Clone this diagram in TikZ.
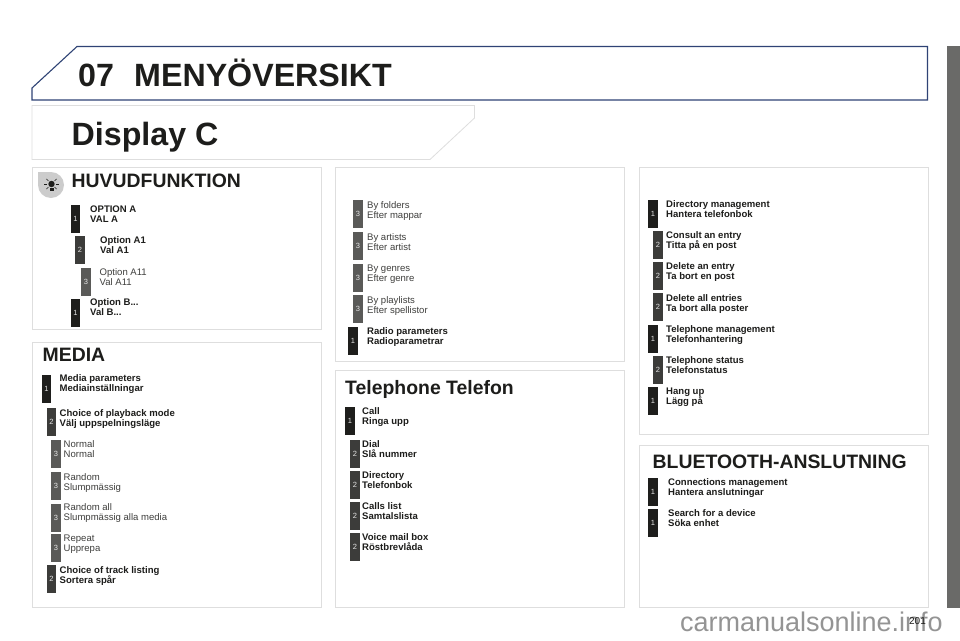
\documentclass[tikz,border=0pt]{standalone}
\usepackage{fontspec}
\setmainfont{Liberation Sans}
\definecolor{navy}{HTML}{2F4375}
\definecolor{panelline}{HTML}{DEDEDE}
\definecolor{lvlone}{HTML}{1E1E1C}
\definecolor{lvltwo}{HTML}{3C3C3A}
\definecolor{lvlthree}{HTML}{5A5A58}
\definecolor{inktext}{HTML}{1D1D1B}
\definecolor{tabgrey}{HTML}{6A6A68}
\tikzset{
  x=1pt,y=-1pt,
  panel/.style={draw=panelline,line width=0.8pt},
  headline/.style={anchor=base west,inner sep=0pt,text=inktext,font=\bfseries\fontsize{19.4}{19.4}\selectfont},
  bigline/.style={headline,font=\bfseries\fontsize{32.2}{32.2}\selectfont},
  lvlbadge/.style={anchor=north west,inner sep=0pt,minimum width=9.5pt,minimum height=28pt,text=white!90!black,font=\fontsize{7.5}{7.5}\selectfont},
  one/.style={lvlbadge,fill=lvlone},
  two/.style={lvlbadge,fill=lvltwo},
  three/.style={lvlbadge,fill=lvlthree},
  boldlabel/.style={anchor=north west,inner sep=0pt,align=left,text=inktext,font=\bfseries\fontsize{9.55}{9.9}\selectfont},
  lightlabel/.style={anchor=north west,inner sep=0pt,align=left,text=inktext!85!white,font=\fontsize{9.55}{9.9}\selectfont},
}
\begin{document}
\begin{tikzpicture}
\useasboundingbox (0,0) rectangle (960,640);
\fill[white] (0,0) rectangle (960,640);
% side tab
\fill[tabgrey] (947,46) rectangle (960,608);
% header
\draw[navy,line width=1.1pt] (32,100) -- (32,88) -- (77,46.5) -- (927.5,46.5) -- (927.5,100) -- cycle;
\node[bigline] (chap) at (78,86) {07};
\node[bigline] (title) at (134,86) {MENYÖVERSIKT};
% display box
\draw[panel] (32,105.5) -- (474.5,105.5) -- (474.5,118) -- (430,159.5) -- (32,159.5) -- cycle;
\node[bigline] (disp) at (71.5,145) {Display C};
% panels
\draw[panel] (32.5,167.5) rectangle (321,329);
\draw[panel] (32.5,342) rectangle (321,607.5);
\draw[panel] (335.5,167.5) rectangle (624,361);
\draw[panel] (335.5,370.5) rectangle (624,607.5);
\draw[panel] (639,167.5) rectangle (928,434.5);
\draw[panel] (639,445) rectangle (928,607.5);
% icon
\fill[black!20] (51,185) circle (13);
\fill[black!20] (38,172) rectangle (51,185);
\fill[inktext] (51.5,184) circle (3.2);
\fill[inktext] (49.5,188) rectangle (53.5,191);
\foreach \a in {0,45,135,180,225,315}
  \draw[inktext,line width=0.7pt] (51.5,184) ++(\a:4.4) -- ++(\a:2.8);
% headings
\node[headline] (h1) at (71.5,187) {HUVUDFUNKTION};
\node[headline] (h2) at (42.5,361.5) {MEDIA};
\node[headline] (h3) at (345,394) {Telephone Telefon};
\node[headline] (h4) at (652.5,468) {BLUETOOTH-ANSLUTNING};
% watermark
\node[anchor=base east,inner sep=0pt,text=black!42,font=\fontsize{27}{27}\selectfont] (wm) at (943,631) {carmanualsonline.info};
% page number
\node[anchor=base east,inner sep=0pt,text=inktext,font=\fontsize{10}{10}\selectfont] (pg) at (926,624) {201};
% HUVUDFUNKTION
\node[one] (a1) at (70.5,204.5) {1};
\node[boldlabel] (a1t) at (90,205.5) {OPTION A\\VAL A};
\node[two] (a2) at (75,236) {2};
\node[boldlabel] (a2t) at (100,236) {Option A1\\Val A1};
\node[three] (a3) at (81,267.5) {3};
\node[lightlabel] (a3t) at (99.5,268) {Option A11\\Val A11};
\node[one] (a4) at (70.5,299) {1};
\node[boldlabel] (a4t) at (90,298) {Option B...\\Val B...};
% MEDIA
\node[one] (m1) at (41.5,375) {1};
\node[boldlabel] (m1t) at (59.5,374) {Media parameters\\Mediainställningar};
\node[two] (m2) at (46.5,408) {2};
\node[boldlabel] (m2t) at (59.5,409) {Choice of playback mode\\Välj uppspelningsläge};
\node[three] (m3) at (51,440) {3};
\node[lightlabel] (m3t) at (63.5,440) {Normal\\Normal};
\node[three] (m4) at (51,472) {3};
\node[lightlabel] (m4t) at (63.5,473) {Random\\Slumpmässig};
\node[three] (m5) at (51,504) {3};
\node[lightlabel] (m5t) at (63.5,503) {Random all\\Slumpmässig alla media};
\node[three] (m6) at (51,534) {3};
\node[lightlabel] (m6t) at (63.5,535) {Repeat\\Upprepa};
\node[two] (m7) at (46.5,565) {2};
\node[boldlabel] (m7t) at (59.5,566) {Choice of track listing\\Sortera spår};
% middle top
\node[three] (b1) at (353,200) {3};
\node[lightlabel] (b1t) at (367,201) {By folders\\Efter mappar};
\node[three] (b2) at (353,232) {3};
\node[lightlabel] (b2t) at (367,233) {By artists\\Efter artist};
\node[three] (b3) at (353,264) {3};
\node[lightlabel] (b3t) at (367,265) {By genres\\Efter genre};
\node[three] (b4) at (353,295) {3};
\node[lightlabel] (b4t) at (367,296) {By playlists\\Efter spellistor};
\node[one] (b5) at (348,327) {1};
\node[boldlabel] (b5t) at (367,327) {Radio parameters\\Radioparametrar};
% Telephone
\node[one] (t1) at (345,407) {1};
\node[boldlabel] (t1t) at (362,407) {Call\\Ringa upp};
\node[two] (t2) at (350,440) {2};
\node[boldlabel] (t2t) at (362,440) {Dial\\Slå nummer};
\node[two] (t3) at (350,471) {2};
\node[boldlabel] (t3t) at (362,471) {Directory\\Telefonbok};
\node[two] (t4) at (350,502) {2};
\node[boldlabel] (t4t) at (362,502) {Calls list\\Samtalslista};
\node[two] (t5) at (350,533) {2};
\node[boldlabel] (t5t) at (362,533) {Voice mail box\\Röstbrevlåda};
% right top
\node[one] (r1) at (648,200) {1};
\node[boldlabel] (r1t) at (666,200.5) {Directory management\\Hantera telefonbok};
\node[two] (r2) at (653,231) {2};
\node[boldlabel] (r2t) at (666,231) {Consult an entry\\Titta på en post};
\node[two] (r3) at (653,262) {2};
\node[boldlabel] (r3t) at (666,262) {Delete an entry\\Ta bort en post};
\node[two] (r4) at (653,293) {2};
\node[boldlabel] (r4t) at (666,294) {Delete all entries\\Ta bort alla poster};
\node[one] (r5) at (648,325) {1};
\node[boldlabel] (r5t) at (666,325) {Telephone management\\Telefonhantering};
\node[two] (r6) at (653,356) {2};
\node[boldlabel] (r6t) at (666,356) {Telephone status\\Telefonstatus};
\node[one] (r7) at (648,387) {1};
\node[boldlabel] (r7t) at (666,388) {Hang up\\Lägg på};
% bluetooth
\node[one] (q1) at (648,478) {1};
\node[boldlabel] (q1t) at (668,478) {Connections management\\Hantera anslutningar};
\node[one] (q2) at (648,509) {1};
\node[boldlabel] (q2t) at (668,509) {Search for a device\\Söka enhet};
\end{tikzpicture}
\end{document}
